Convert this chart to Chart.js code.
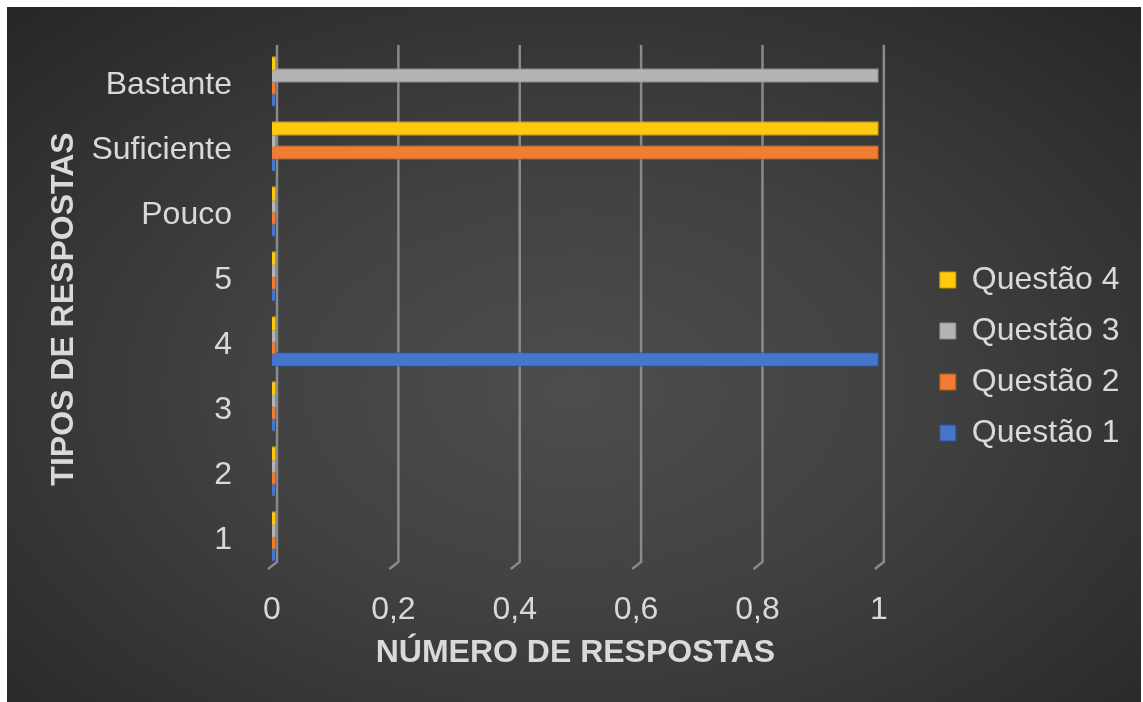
<!DOCTYPE html>
<html>
<head>
<meta charset="utf-8">
<script src="https://cdn.jsdelivr.net/npm/chart.js@4.4.1/dist/chart.umd.min.js"></script>
<style>
  html, body { margin: 0; padding: 0; background: #ffffff; }
  #wrap {
    position: absolute; left: 7px; top: 7px; width: 1134px; height: 695px;
    background: radial-gradient(ellipse 75% 80% at 50% 55%, #4d4d4d 0%, #414141 40%, #2e2e2e 80%, #242424 100%);
  }
</style>
</head>
<body>
<div id="wrap"><canvas id="myChart" width="1134" height="695"></canvas></div>
<script>
// categories, top to bottom
const labels = ['Bastante', 'Suficiente', 'Pouco', '5', '4', '3', '2', '1'];

// one array per series (order = legend order, top bar first)
const questao4 = [0, 1, 0, 0, 0, 0, 0, 0];
const questao3 = [1, 0, 0, 0, 0, 0, 0, 0];
const questao2 = [0, 1, 0, 0, 0, 0, 0, 0];
const questao1 = [0, 0, 0, 0, 1, 0, 0, 0];

const xTicks = [0, 0.2, 0.4, 0.6, 0.8, 1];

const txt = '#d9d9d9';
const fam = "'Liberation Sans', Arial, sans-serif";

// back wall grid lines, drawn a little to the right like the 3d original
const wallGrid = {
  id: 'wallGrid',
  beforeDatasetsDraw(chart) {
    const c = chart.ctx;
    const x = chart.scales.x;
    const top = chart.chartArea.top;
    const bottom = chart.chartArea.bottom;
    c.save();
    c.strokeStyle = '#8a8a8a';
    c.lineWidth = 2.5;
    xTicks.forEach(v => {
      const px = x.getPixelForValue(v) + 5;
      c.beginPath();
      c.moveTo(px, top - 4);
      c.lineTo(px, bottom - 7);
      c.lineTo(px - 9, bottom);
      c.stroke();
    });
    c.restore();
  }
};

function ds(label, data, color, edge) {
  return {
    label: label,
    data: data,
    backgroundColor: color,
    borderColor: edge,
    borderWidth: 1,
    borderSkipped: 'start',
    minBarLength: 4,
    barPercentage: 1.2,
    categoryPercentage: 0.74
  };
}

const ctx = document.getElementById('myChart').getContext('2d');
const myChart = new Chart(ctx, {
  type: 'bar',
  data: {
    labels: labels,
    datasets: [
      ds('Questão 4', questao4, '#ffc90e', '#c79a00'),
      ds('Questão 3', questao3, '#b4b4b4', '#8a8a8a'),
      ds('Questão 2', questao2, '#f07d32', '#b85a1c'),
      ds('Questão 1', questao1, '#4675cc', '#2f5396')
    ]
  },
  plugins: [wallGrid],
  options: {
    indexAxis: 'y',
    responsive: false,
    animation: false,
    layout: { padding: { top: 42, bottom: 38, left: 40, right: 11.5 } },
    scales: {
      x: {
        min: 0,
        max: 1,
        grid: { display: false },
        border: { display: false },
        afterBuildTicks(s) { s.ticks = xTicks.map(v => ({ value: v })); },
        afterFit(s) { s.height = 95; s.paddingLeft = 0; s.paddingRight = 0; },
        ticks: {
          color: txt,
          padding: 17,
          font: { family: fam, size: 32, lineHeight: 1 },
          callback: v => String(+Number(v).toFixed(1)).replace('.', ',')
        },
        title: {
          display: true,
          text: 'NÚMERO DE RESPOSTAS',
          color: txt,
          padding: { top: 0, bottom: -5 },
          font: { family: fam, size: 32, weight: 'bold', lineHeight: 1 }
        }
      },
      y: {
        grid: { display: false },
        border: { display: false },
        afterFit(s) { s.width = 225; s.paddingTop = 0; s.paddingBottom = 0; },
        ticks: {
          color: txt,
          padding: 32,
          labelOffset: 4,
          font: { family: fam, size: 32, lineHeight: 1 }
        },
        title: {
          display: true,
          text: 'TIPOS DE RESPOSTAS',
          color: txt,
          padding: { top: 1, bottom: 0 },
          font: { family: fam, size: 32, weight: 'bold', lineHeight: 1 }
        }
      },
      // empty spacer between plot and legend
      gap: {
        type: 'category',
        axis: 'y',
        position: 'right',
        grid: { display: false },
        border: { display: false },
        ticks: { display: false },
        afterFit(s) { s.width = 42; s.paddingTop = 0; s.paddingBottom = 0; }
      }
    },
    plugins: {
      legend: {
        position: 'right',
        maxWidth: 300,
        labels: {
          color: txt,
          boxWidth: 16,
          boxHeight: 16,
          padding: 19,
          font: { family: fam, size: 32 }
        }
      },
      tooltip: { enabled: false }
    }
  }
});
</script>
</body>
</html>
